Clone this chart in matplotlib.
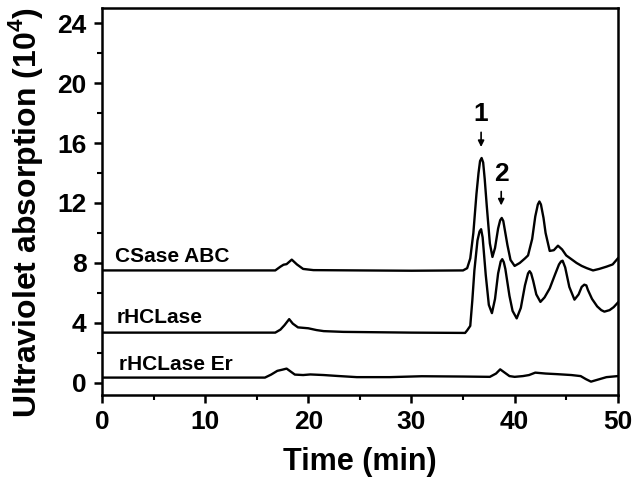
import numpy as np
import matplotlib
matplotlib.use('Agg')
import matplotlib.pyplot as plt

plt.rcParams['font.family'] = ['Liberation Sans', 'DejaVu Sans']
plt.rcParams['font.weight'] = 'bold'
plt.rcParams['mathtext.fontset'] = 'custom'
plt.rcParams['mathtext.rm'] = 'Liberation Sans:bold'
plt.rcParams['mathtext.bf'] = 'Liberation Sans:bold'

# CSase ABC trace (time in min, absorption in 10^4)
t_csase = [0, 16.8, 17.3, 17.6, 17.9, 18.4, 18.9, 19.5, 20.5, 25, 30, 35.0, 35.4, 35.7,
           36.0, 36.3, 36.5, 36.65, 36.8, 36.95, 37.1, 37.3, 37.6, 37.85, 38.1, 38.4,
           38.6, 38.75, 38.9, 39.1, 39.3, 39.6, 40.0, 40.5, 41.0, 41.3, 41.7, 42.0, 42.25,
           42.4, 42.55, 42.8, 43.0, 43.4, 43.8, 44.2, 44.6, 45.0, 45.5, 46.0, 46.5, 47.0,
           47.6, 48.2, 48.9, 49.5, 50.0]
y_csase = [7.5, 7.5, 7.75, 7.88, 7.92, 8.22, 7.9, 7.6, 7.52, 7.5, 7.48, 7.5, 7.65, 8.3,
           10.0, 12.6, 14.0, 14.8, 15.0, 14.7, 13.6, 11.8, 9.3, 8.4, 9.0, 10.3,
           10.85, 11.0, 10.8, 10.0, 9.2, 8.2, 7.8, 8.0, 8.3, 8.5, 9.6, 11.1, 11.9,
           12.1, 11.9, 11.0, 10.0, 8.8, 8.85, 9.15, 8.9, 8.5, 8.25, 8.0, 7.8, 7.65,
           7.5, 7.6, 7.75, 7.9, 8.3]

# rHCLase trace
t_rhc = [0, 16.8, 17.3, 17.7, 18.15, 18.5, 19.0, 20.0, 20.8, 21.5, 23.4, 30, 35.2, 35.4,
         35.7, 35.9, 36.1, 36.4, 36.6, 36.75, 36.9, 37.2, 37.5, 37.8, 38.1, 38.4, 38.65,
         38.8, 38.95, 39.1, 39.5, 39.8, 40.2, 40.6, 41.0, 41.3, 41.45, 41.6, 41.8, 42.1,
         42.5, 42.9, 43.4, 43.9, 44.3, 44.5, 44.65, 44.9, 45.3, 45.8, 46.2, 46.5, 46.75,
         46.95, 47.1, 47.5, 48.0, 48.4, 48.7, 49.2, 49.6, 50.0]
y_rhc = [3.35, 3.35, 3.55, 3.85, 4.25, 3.95, 3.7, 3.64, 3.52, 3.45, 3.4, 3.35, 3.33, 3.5,
         3.8, 5.5, 7.5, 9.5, 10.1, 10.25, 9.7, 7.2, 5.2, 4.65, 5.6, 7.3, 8.1,
         8.25, 8.05, 7.6, 5.8, 4.8, 4.3, 5.0, 6.5, 7.3, 7.45, 7.3, 6.8, 5.9,
         5.4, 5.7, 6.3, 7.2, 7.9, 8.1, 8.15, 7.7, 6.4, 5.55, 5.9, 6.4, 6.55,
         6.5, 6.2, 5.6, 5.1, 4.85, 4.75, 4.85, 5.05, 5.35]

# rHCLase Er trace
t_er = [0, 15.8, 16.4, 17.0, 17.5, 17.9, 18.3, 18.7, 19.5, 20.2, 21.5, 22.8, 24.7, 27.9,
        31.0, 35, 37.6, 38.2, 38.6, 39.0, 39.5, 40.0, 40.8, 41.4, 42.0, 43.0, 44.1,
        45.5, 46.4, 46.9, 47.4, 48.0, 48.9, 50.0]
y_er = [0.35, 0.35, 0.55, 0.8, 0.88, 0.95, 0.75, 0.55, 0.52, 0.56, 0.52, 0.46, 0.38, 0.38,
        0.44, 0.42, 0.40, 0.62, 0.9, 0.7, 0.45, 0.40, 0.45, 0.52, 0.68, 0.62, 0.58,
        0.52, 0.45, 0.25, 0.08, 0.2, 0.38, 0.45]

trace_labels = ['CSase ABC', 'rHCLase', 'rHCLase Er']
label_pos = [(1.3, 8.45), (1.4, 4.35), (1.7, 1.25)]

peak_names = ['1', '2']
peak_time = [36.75, 38.7]
peak_text_y = [17.95, 13.9]
peak_arrow = [(16.9, 15.55), (12.95, 11.65)]

fig = plt.figure(figsize=(6.33, 4.78), dpi=100)
ax = fig.add_axes([0.161, 0.174, 0.815, 0.809])

for t, y in [(t_csase, y_csase), (t_rhc, y_rhc), (t_er, y_er)]:
    ax.plot(t, y, color='black', lw=1.7, solid_joinstyle='round')

for name, (x, y) in zip(trace_labels, label_pos):
    ax.text(x, y, name, fontsize=15, fontweight='bold', ha='left', va='center')

for name, t, ty, (a0, a1) in zip(peak_names, peak_time, peak_text_y, peak_arrow):
    ax.text(t, ty, name, fontsize=19, fontweight='bold', ha='center', va='center')
    ax.annotate('', xy=(t, a1), xytext=(t, a0),
                arrowprops=dict(arrowstyle='-|>', color='black', lw=1.2, mutation_scale=9))

ax.set_xlim(0, 50)
ax.set_ylim(-0.8, 25)
ax.set_xticks(np.arange(0, 51, 10))
ax.set_xticks(np.arange(0, 51, 5), minor=True)
ax.set_yticks(np.arange(0, 25, 4))
ax.set_yticks(np.arange(0, 25, 2), minor=True)
ax.tick_params(which='major', direction='out', length=6, width=1.8, labelsize=19, pad=5)
ax.tick_params(which='minor', direction='out', length=3.5, width=1.5)
for lab in ax.get_xticklabels() + ax.get_yticklabels():
    lab.set_fontweight('bold')
for sp in ax.spines.values():
    sp.set_linewidth(1.8)

ax.set_xlabel('Time (min)', fontsize=22, fontweight='bold')
ax.xaxis.set_label_coords(0.5, -0.135)
fig.text(0.009, 0.555, r'Ultraviolet absorption (10$^{4}$)', fontsize=23, fontweight='bold',
         rotation=90, ha='left', va='center')

fig.savefig('out.png', dpi=100)
